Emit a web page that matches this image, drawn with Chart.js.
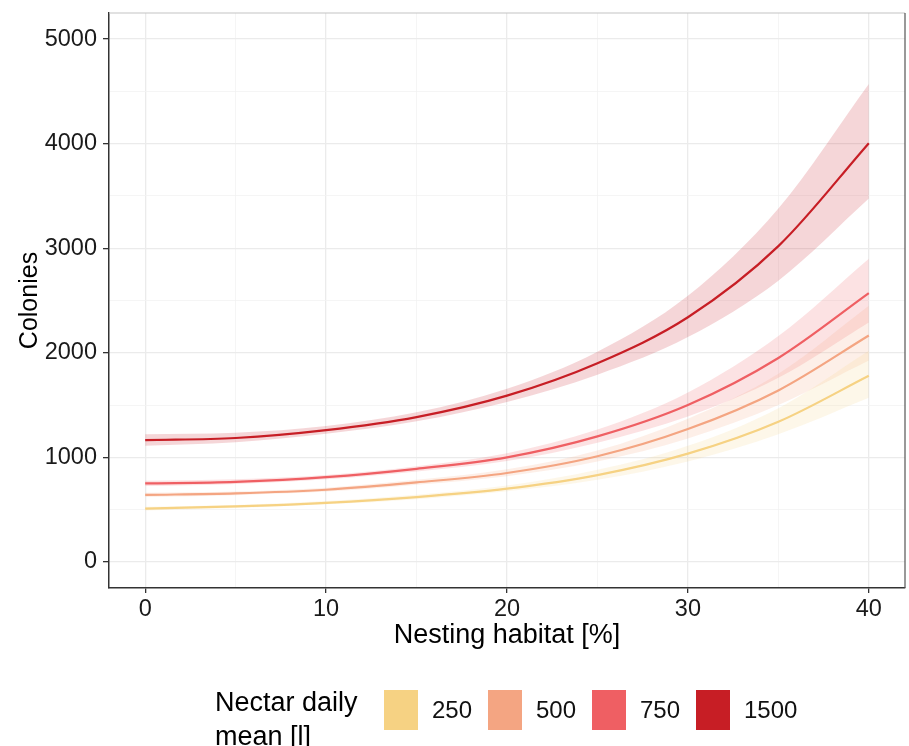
<!DOCTYPE html>
<html>
<head>
<meta charset="utf-8">
<script src="https://cdn.jsdelivr.net/npm/chart.js@4.4.1/dist/chart.umd.min.js"></script>
<style>
  body { margin: 0; background: #fff; font-family: "Liberation Sans", Arial, sans-serif; }
  #wrap { position: relative; width: 909px; height: 746px; overflow: hidden; }
  #chart { position: absolute; left: 0; top: 0; }
  .legTitle { position: absolute; left: 215px; top: 685px; font-size: 27px; line-height: 34px; color: #000; }
  .legKey { position: absolute; top: 690px; width: 34px; height: 40px; }
  .legLabel { position: absolute; top: 695px; font-size: 24px; line-height: 30px; color: #111; }
</style>
</head>
<body>
<div id="wrap">
  <canvas id="chart" width="909" height="746"></canvas>
</div>
<script>
// nesting habitat [%]
const habitat = [0, 5, 10, 15, 20, 25, 30, 35, 40];

// nectar daily mean levels
const nectarLevels = ['250', '500', '750', '1500'];
const levelColors = ['#F6D283', '#F4A582', '#EF5F63', '#C71E25'];

// fitted colonies
const fit250  = [510, 530, 565, 620, 700, 830, 1035, 1340, 1780];
const fit500  = [640, 655, 690, 760, 850, 1010, 1270, 1640, 2165];
const fit750  = [750, 765, 810, 890, 1000, 1200, 1500, 1950, 2570];
const fit1500 = [1165, 1185, 1260, 1385, 1590, 1900, 2340, 3020, 4005];

// confidence band, lower
const lo250  = [492, 515, 550, 600, 675, 785, 960, 1220, 1570];
const lo500  = [620, 638, 672, 738, 820, 960, 1180, 1500, 1925];
const lo750  = [725, 745, 790, 865, 965, 1140, 1390, 1760, 2290];
const lo1500 = [1110, 1145, 1225, 1345, 1530, 1790, 2150, 2690, 3475];

// confidence band, upper
const hi250  = [528, 545, 582, 642, 730, 880, 1110, 1470, 2020];
const hi500  = [660, 673, 710, 785, 885, 1065, 1370, 1800, 2450];
const hi750  = [775, 790, 830, 915, 1040, 1265, 1620, 2160, 2900];
const hi1500 = [1220, 1235, 1300, 1430, 1655, 2010, 2545, 3380, 4570];

const xTicks = [0, 5, 10, 15, 20, 25, 30, 35, 40];
const yTicks = [0, 500, 1000, 1500, 2000, 2500, 3000, 3500, 4000, 4500, 5000];

const fits = [fit250, fit500, fit750, fit1500];
const lows = [lo250, lo500, lo750, lo1500];
const highs = [hi250, hi500, hi750, hi1500];

function pts(vals) {
  return habitat.map((h, i) => ({ x: h, y: vals[i] }));
}
function alpha(hex, a) {
  const n = parseInt(hex.slice(1), 16);
  return `rgba(${(n >> 16) & 255},${(n >> 8) & 255},${n & 255},${a})`;
}

const datasets = [];
nectarLevels.forEach((lvl, i) => {
  datasets.push({
    label: lvl + ' lower', data: pts(lows[i]), borderWidth: 0, pointRadius: 0,
    fill: false, order: 1, cubicInterpolationMode: 'monotone'
  });
  datasets.push({
    label: lvl + ' upper', data: pts(highs[i]), borderWidth: 0, pointRadius: 0,
    fill: '-1', backgroundColor: alpha(levelColors[i], 0.18), order: 1,
    cubicInterpolationMode: 'monotone'
  });
});
nectarLevels.forEach((lvl, i) => {
  datasets.push({
    label: lvl, data: pts(fits[i]), borderColor: levelColors[i], borderWidth: 2.2,
    pointRadius: 0, fill: false, order: 0, cubicInterpolationMode: 'monotone'
  });
});

const isMajor = (v, step) => Math.abs(v % step) < 1e-9;

// top and right sides of the panel box
const panelBox = {
  id: 'panelBox',
  afterDraw(chart) {
    const { ctx, chartArea: a } = chart;
    ctx.save();
    ctx.lineWidth = 1.2;
    ctx.strokeStyle = '#c4c4c4';
    ctx.beginPath(); ctx.moveTo(a.left, a.top); ctx.lineTo(a.right, a.top); ctx.stroke();
    ctx.strokeStyle = '#555';
    ctx.beginPath(); ctx.moveTo(a.right, a.top); ctx.lineTo(a.right, a.bottom); ctx.stroke();
    ctx.restore();
  }
};

const tickFont = { family: '"Liberation Sans", Arial, sans-serif', size: 23.5 };

new Chart(document.getElementById('chart'), {
  type: 'line',
  data: { datasets },
  plugins: [panelBox],
  options: {
    responsive: false,
    animation: false,
    layout: { padding: { left: 11, top: 13, right: 4, bottom: 90 } },
    plugins: { legend: { display: false }, tooltip: { enabled: false } },
    scales: {
      x: {
        type: 'linear', min: -2, max: 42,
        afterBuildTicks: s => { s.ticks = xTicks.map(v => ({ value: v })); },
        afterFit: s => { s.height = 68; s.paddingLeft = 0; s.paddingRight = 0; },
        ticks: {
          autoSkip: false, maxRotation: 0, padding: 2, color: '#1a1a1a', font: tickFont,
          callback: v => isMajor(v, 10) ? v : ''
        },
        grid: {
          color: c => isMajor(c.tick.value, 10) ? '#ebebeb' : '#f3f3f3',
          lineWidth: c => isMajor(c.tick.value, 10) ? 1.3 : 0.8,
          tickColor: c => isMajor(c.tick.value, 10) ? '#333' : 'rgba(0,0,0,0)',
          tickLength: 5
        },
        border: { color: '#333', width: 1.5 },
        title: {
          display: true, text: 'Nesting habitat [%]', color: '#000',
          font: { family: '"Liberation Sans", Arial, sans-serif', size: 27 }
        }
      },
      y: {
        type: 'linear', min: -250, max: 5250,
        afterBuildTicks: s => { s.ticks = yTicks.map(v => ({ value: v })); },
        afterFit: s => { s.width = 98; s.paddingTop = 0; s.paddingBottom = 0; },
        ticks: {
          autoSkip: false, padding: 6, color: '#1a1a1a', font: tickFont,
          callback: v => isMajor(v, 1000) ? v : ''
        },
        grid: {
          color: c => isMajor(c.tick.value, 1000) ? '#ebebeb' : '#f3f3f3',
          lineWidth: c => isMajor(c.tick.value, 1000) ? 1.3 : 0.8,
          tickColor: c => isMajor(c.tick.value, 1000) ? '#333' : 'rgba(0,0,0,0)',
          tickLength: 6
        },
        border: { color: '#333', width: 1.5 },
        title: {
          display: true, text: 'Colonies', color: '#000',
          font: { family: '"Liberation Sans", Arial, sans-serif', size: 25 }
        }
      }
    }
  }
});

// legend below the panel
const wrap = document.getElementById('wrap');
const title = document.createElement('div');
title.className = 'legTitle';
title.innerHTML = 'Nectar daily<br>mean [l]';
wrap.appendChild(title);
const keyX = [384, 488, 592, 696];
nectarLevels.forEach((lvl, i) => {
  const k = document.createElement('div');
  k.className = 'legKey';
  k.style.left = keyX[i] + 'px';
  k.style.background = levelColors[i];
  wrap.appendChild(k);
  const t = document.createElement('div');
  t.className = 'legLabel';
  t.style.left = (keyX[i] + 48) + 'px';
  t.textContent = lvl;
  wrap.appendChild(t);
});
</script>
</body>
</html>
